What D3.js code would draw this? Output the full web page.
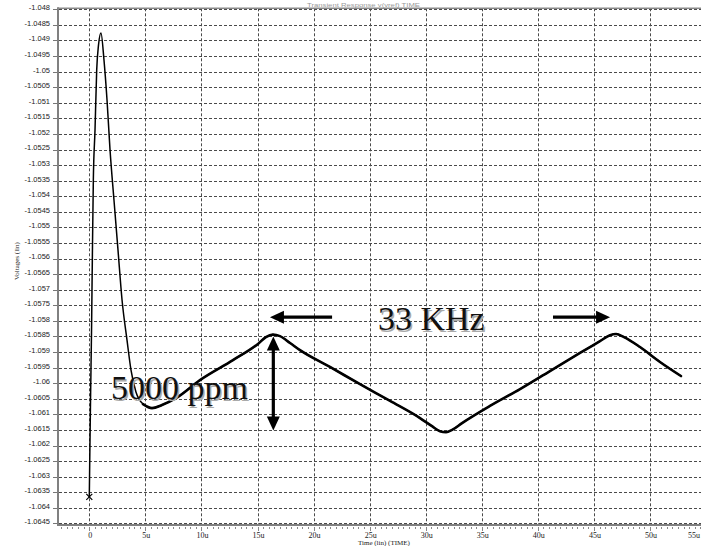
<!DOCTYPE html>
<html>
<head>
<meta charset="utf-8">
<script src="https://cdn.jsdelivr.net/npm/d3@7"></script>
<style>
  html, body { margin: 0; padding: 0; background: #fff; overflow: hidden; }
  svg { display: block; }
</style>
</head>
<body>
<svg id="chart" width="701" height="546"></svg>
<script>
// Transient waveform: time in microseconds, voltage in volts
const timeUs = [
  0, 0.04, 0.11, 0.20, 0.27, 0.36, 0.51, 0.66, 0.82, 1.04,
  1.31, 1.58, 1.85, 2.20, 2.56, 2.92, 3.36, 3.72, 4.16, 4.79,
  5.59, 6.48, 7.73, 9.87, 12.81, 15.04, 15.75, 16.37, 17.00, 17.90,
  18.79, 21.46, 24.14, 26.82, 29.49, 30.56, 31.27, 31.81, 32.35, 33.24,
  35.73, 38.41, 41.08, 43.76, 45.54, 46.43, 46.97, 47.68, 49.11, 50.89,
  52.76
];
const voltage = [
  -1.06365, -1.06247, -1.06054, -1.05829, -1.05605, -1.05348, -1.05187, -1.04995, -1.04915, -1.04876,
  -1.04963, -1.05091, -1.05252, -1.05412, -1.05573, -1.05733, -1.05861, -1.05958, -1.06028, -1.06067,
  -1.06080, -1.06070, -1.06048, -1.05990, -1.05926, -1.05874, -1.05852, -1.05844, -1.05849, -1.05871,
  -1.05894, -1.05948, -1.06003, -1.06057, -1.06112, -1.06138, -1.06154, -1.06157, -1.06150, -1.06128,
  -1.06073, -1.06019, -1.05961, -1.05903, -1.05865, -1.05846, -1.05842, -1.05852, -1.05884, -1.05932,
  -1.05977
];

// Axis ticks
const xTickValues = [0, 5, 10, 15, 20, 25, 30, 35, 40, 45, 50, 55];
const xTickLabels = ["0", "5u", "10u", "15u", "20u", "25u", "30u", "35u", "40u", "45u", "50u", "55u"];
const yTickLabels = [
  "-1.048", "-1.0485", "-1.049", "-1.0495", "-1.05", "-1.0505", "-1.051", "-1.0515",
  "-1.052", "-1.0525", "-1.053", "-1.0535", "-1.054", "-1.0545", "-1.055", "-1.0555",
  "-1.056", "-1.0565", "-1.057", "-1.0575", "-1.058", "-1.0585", "-1.059", "-1.0595",
  "-1.06", "-1.0605", "-1.061", "-1.0615", "-1.062", "-1.0625", "-1.063", "-1.0635",
  "-1.064", "-1.0645"
];
const yTickValues = yTickLabels.map(Number);

// Annotations (data units)
const swingTime = 16.41;            // double arrow position
const swingRange = [-1.05850, -1.06152];
const periodLevel = -1.05788;       // horizontal arrows
const leftArrow = [21.65, 16.11];   // tail, tip
const rightArrow = [41.35, 46.44];  // tail, tip
const swingText = "5000 ppm";
const periodText = "33 KHz";

const W = 701, H = 546;
const svg = d3.select("#chart");
svg.append("rect").attr("width", W).attr("height", H).attr("fill", "#fff");

const plot = { left: 58, right: 701, top: 8.3, bottom: 525 };

const x = d3.scaleLinear().domain([0, 50]).range([89.3, 650]);
const y = d3.scaleLinear().domain([-1.0645, -1.048]).range([523.4, 9.3]);

svg.append("defs").append("clipPath").attr("id", "plotClip")
  .append("rect")
  .attr("x", plot.left).attr("y", plot.top)
  .attr("width", plot.right - plot.left).attr("height", plot.bottom - plot.top);

// Grid
const grid = svg.append("g").attr("clip-path", "url(#plotClip)")
  .attr("stroke", "#4a4a4a").attr("stroke-width", 1).attr("stroke-dasharray", "3,2");
grid.selectAll("line.h").data(yTickValues).join("line")
  .attr("class", "h")
  .attr("x1", plot.left + 1).attr("x2", plot.right)
  .attr("y1", d => Math.round(y(d)) + 0.5).attr("y2", d => Math.round(y(d)) + 0.5);
grid.selectAll("line.v").data(xTickValues).join("line")
  .attr("class", "v")
  .attr("x1", d => Math.round(x(d)) + 0.5).attr("x2", d => Math.round(x(d)) + 0.5)
  .attr("y1", plot.top).attr("y2", plot.bottom);

// Frame
svg.append("line").attr("x1", plot.left).attr("x2", plot.left)
  .attr("y1", plot.top - 1).attr("y2", plot.bottom + 1)
  .attr("stroke", "#808080").attr("stroke-width", 2);
svg.append("line").attr("x1", plot.left).attr("x2", plot.right)
  .attr("y1", plot.bottom).attr("y2", plot.bottom)
  .attr("stroke", "#808080").attr("stroke-width", 2);
svg.append("line").attr("x1", plot.left).attr("x2", plot.right)
  .attr("y1", plot.top).attr("y2", plot.top)
  .attr("stroke", "#8a8a8a").attr("stroke-width", 1.5);

// Y axis ticks and labels
const yAxis = svg.append("g");
yAxis.selectAll("line").data(yTickValues).join("line")
  .attr("x1", 53).attr("x2", 57)
  .attr("y1", d => Math.round(y(d)) + 0.5).attr("y2", d => Math.round(y(d)) + 0.5)
  .attr("stroke", "#777").attr("stroke-width", 1);
yAxis.selectAll("text").data(yTickValues).join("text")
  .attr("x", 50)
  .attr("y", d => Math.max(y(d) - 1.7, 4))
  .attr("dy", "0.35em")
  .attr("text-anchor", "end")
  .attr("font-family", "Liberation Sans, Arial, sans-serif")
  .attr("font-size", 7.5)
  .attr("fill", "#222")
  .text((d, i) => yTickLabels[i]);

// X axis minor / major ticks
const minor = d3.range(-5, 110).map(k => k * 0.5).filter(t => x(t) > plot.left && x(t) < plot.right);
svg.append("g").selectAll("line").data(minor).join("line")
  .attr("x1", d => Math.round(x(d)) + 0.5).attr("x2", d => Math.round(x(d)) + 0.5)
  .attr("y1", plot.bottom + 2).attr("y2", d => (d % 5 === 0 ? plot.bottom + 6 : plot.bottom + 4))
  .attr("stroke", "#888").attr("stroke-width", 1);

// X tick labels; the last one is kept inside the right edge
svg.append("g").selectAll("text").data(xTickValues).join("text")
  .attr("x", d => Math.min(x(d) + 1, W - 1))
  .attr("y", 538)
  .attr("text-anchor", d => (x(d) + 8 > W ? "end" : "middle"))
  .attr("font-family", "Liberation Serif, Times New Roman, serif")
  .attr("font-size", 8)
  .attr("fill", "#222")
  .text((d, i) => xTickLabels[i]);

// Axis titles
svg.append("text")
  .attr("x", 358).attr("y", 545)
  .attr("font-family", "Liberation Serif, Times New Roman, serif")
  .attr("font-size", 7).attr("fill", "#222")
  .text("Time (lin) (TIME)");
svg.append("text")
  .attr("transform", "translate(19,261) rotate(-90)")
  .attr("text-anchor", "middle")
  .attr("font-family", "Liberation Serif, Times New Roman, serif")
  .attr("font-size", 7).attr("fill", "#222")
  .text("Voltages (lin)");
svg.append("text")
  .attr("x", 307).attr("y", 6.5)
  .attr("font-family", "Liberation Sans, Arial, sans-serif")
  .attr("font-size", 5).attr("fill", "#999")
  .attr("textLength", 113).attr("lengthAdjust", "spacingAndGlyphs")
  .text("Transient Response  v(vref)  TIME");

// Waveform
const pts = timeUs.map((t, i) => [t, voltage[i]]);
const line = d3.line().x(d => x(d[0])).y(d => y(d[1])).curve(d3.curveMonotoneX);
const wave = svg.append("g").attr("clip-path", "url(#plotClip)").attr("fill", "none").attr("stroke", "#000")
  .attr("stroke-linejoin", "round").attr("stroke-linecap", "round");
wave.append("path").attr("d", line(pts)).attr("stroke-width", 1.5);
wave.append("path").attr("d", line(pts.filter(d => d[0] >= 4.5))).attr("stroke-width", 2.6);

// Start marker
const mx = x(timeUs[0]), my = y(voltage[0]);
svg.append("path")
  .attr("d", `M${mx - 3},${my - 3}L${mx + 3},${my + 3}M${mx - 3},${my + 3}L${mx + 3},${my - 3}`)
  .attr("stroke", "#000").attr("stroke-width", 1.2);

// Annotation arrows
const ann = svg.append("g");
function arrowHead(tipX, tipY, dirX, dirY) {
  const len = 14, half = 6.5;
  const bx = tipX - dirX * len, by = tipY - dirY * len;
  const px = -dirY, py = dirX;
  ann.append("path")
    .attr("d", `M${tipX},${tipY}L${bx + px * half},${by + py * half}L${bx - px * half},${by - py * half}Z`)
    .attr("fill", "#000");
}
function shaft(x1, y1, x2, y2) {
  ann.append("line").attr("x1", x1).attr("y1", y1).attr("x2", x2).attr("y2", y2)
    .attr("stroke", "#000").attr("stroke-width", 3.2);
}
// Vertical swing arrow
const sx = x(swingTime), sTop = y(swingRange[0]), sBot = y(swingRange[1]);
shaft(sx, sTop + 10, sx, sBot - 10);
arrowHead(sx, sTop, 0, -1);
arrowHead(sx, sBot, 0, 1);
// Period arrows
const py0 = y(periodLevel);
shaft(x(leftArrow[0]), py0, x(leftArrow[1]) + 10, py0);
arrowHead(x(leftArrow[1]), py0, -1, 0);
shaft(x(rightArrow[0]), py0, x(rightArrow[1]) - 10, py0);
arrowHead(x(rightArrow[1]), py0, 1, 0);

// Annotation labels with a soft grey shadow
function label(txt, tx, ty) {
  ann.append("text").attr("x", tx + 1.5).attr("y", ty + 1.5)
    .attr("font-family", "Liberation Serif, Times New Roman, serif")
    .attr("font-size", 34).attr("fill", "#aaa").text(txt);
  ann.append("text").attr("x", tx).attr("y", ty)
    .attr("font-family", "Liberation Serif, Times New Roman, serif")
    .attr("font-size", 34).attr("fill", "#111").text(txt);
}
label(swingText, 111, 399);
label(periodText, 378, 330);
</script>
</body>
</html>
